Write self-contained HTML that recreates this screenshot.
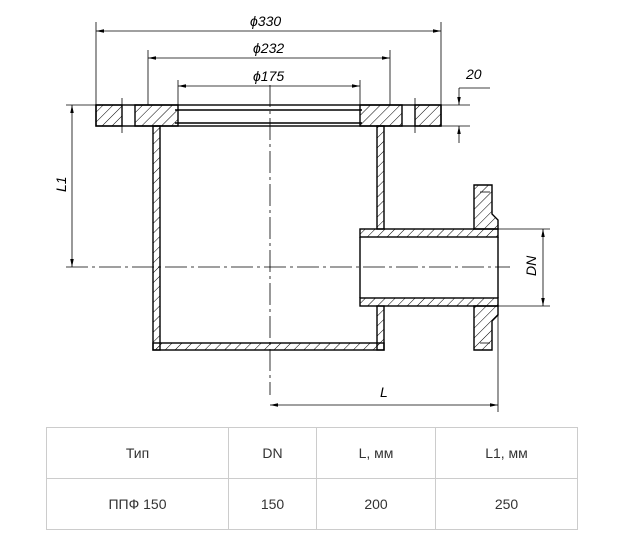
<!DOCTYPE html>
<html><head><meta charset="utf-8"><style>
body{margin:0;background:#fff;width:626px;height:560px;overflow:hidden;position:relative;font-family:"Liberation Sans",sans-serif}
table{position:absolute;left:46px;top:427px;border-collapse:collapse;font-size:14px;color:#333}
td{border:1px solid #ccc;text-align:center;height:50px;padding:0}
</style></head><body>
<svg width="626" height="430" style="position:absolute;left:0;top:0" xmlns="http://www.w3.org/2000/svg">
<defs>
<pattern id="h" width="7" height="7" patternUnits="userSpaceOnUse" patternTransform="rotate(45)"><line x1="0" y1="0" x2="0" y2="7" stroke="#000" stroke-width="1"/></pattern>
<marker id="a" markerWidth="10" markerHeight="6" refX="10" refY="3" orient="auto"><path d="M0,0.8 L10,3 L0,5.2z" fill="#000"/></marker>
<marker id="b" markerWidth="10" markerHeight="6" refX="0" refY="3" orient="auto"><path d="M10,0.8 L0,3 L10,5.2z" fill="#000"/></marker>
</defs>
<g stroke="#000" fill="none" stroke-width="1.4">
<!-- top flange -->
<rect x="96" y="105" width="345" height="21"/>
<rect x="96" y="105" width="26" height="21" fill="url(#h)"/>
<rect x="415" y="105" width="26" height="21" fill="url(#h)"/>
<path d="M135,105 H178 V126 H135Z" fill="url(#h)"/>
<path d="M360,105 H402 V126 H360Z" fill="url(#h)"/>
<line x1="175" y1="110" x2="362" y2="110"/>
<line x1="175" y1="123" x2="362" y2="123"/>
<!-- body -->
<rect x="153" y="126" width="7" height="224" fill="url(#h)"/>
<rect x="377" y="126" width="7" height="103" fill="url(#h)"/>
<rect x="377" y="306" width="7" height="44" fill="url(#h)"/>
<rect x="153" y="343" width="231" height="7" fill="url(#h)"/>
<!-- side pipe -->
<rect x="360" y="229" width="138" height="8" fill="url(#h)"/>
<rect x="360" y="298" width="138" height="8" fill="url(#h)"/>
<line x1="360" y1="237" x2="360" y2="298"/>
<line x1="498" y1="237" x2="498" y2="298"/>
<path d="M474,185 H492 V214 L498,220 V229 H474Z" fill="url(#h)"/>
<path d="M474,350 H492 V321 L498,315 V306 H474Z" fill="url(#h)"/>
</g>
<g stroke="#000" stroke-width="0.8" fill="none">
<line x1="270" y1="85" x2="270" y2="395" stroke-dasharray="22,4,3,4"/>
<line x1="66" y1="267" x2="510" y2="267" stroke-dasharray="22,4,3,4"/>
<line x1="122" y1="98" x2="122" y2="133"/><line x1="415" y1="98" x2="415" y2="133"/>
<line x1="480" y1="192" x2="490" y2="192"/><line x1="480" y1="343" x2="490" y2="343"/>
<!-- dims -->
<line x1="96" y1="22" x2="96" y2="105"/><line x1="441" y1="22" x2="441" y2="105"/>
<line x1="96" y1="31" x2="441" y2="31" marker-start="url(#b)" marker-end="url(#a)"/>
<line x1="148" y1="50" x2="148" y2="105"/><line x1="390" y1="50" x2="390" y2="105"/>
<line x1="148" y1="58" x2="390" y2="58" marker-start="url(#b)" marker-end="url(#a)"/>
<line x1="178" y1="80" x2="178" y2="105"/><line x1="360" y1="80" x2="360" y2="105"/>
<line x1="178" y1="86" x2="360" y2="86" marker-start="url(#b)" marker-end="url(#a)"/>
<line x1="441" y1="105" x2="470" y2="105"/><line x1="441" y1="126" x2="470" y2="126"/>
<line x1="459" y1="88" x2="459" y2="105" marker-end="url(#a)"/>
<line x1="459" y1="143" x2="459" y2="126" marker-end="url(#a)"/>
<line x1="459" y1="88" x2="490" y2="88"/>
<line x1="66" y1="105" x2="96" y2="105"/>
<line x1="72" y1="105" x2="72" y2="267" marker-start="url(#b)" marker-end="url(#a)"/>
<line x1="498" y1="306" x2="498" y2="412"/>
<line x1="270" y1="405" x2="498" y2="405" marker-start="url(#b)" marker-end="url(#a)"/>
<line x1="498" y1="229" x2="550" y2="229"/><line x1="498" y1="306" x2="550" y2="306"/>
<line x1="543" y1="229" x2="543" y2="306" marker-start="url(#b)" marker-end="url(#a)"/>
</g>
<g font-family="Liberation Sans,sans-serif" font-style="italic" font-size="14" fill="#000">
<text x="250" y="26">ϕ330</text>
<text x="253" y="53">ϕ232</text>
<text x="253" y="81">ϕ175</text>
<text x="466" y="79">20</text>
<text x="380" y="397">L</text>
<text transform="translate(66,192) rotate(-90)">L1</text>
<text transform="translate(536,276) rotate(-90)">DN</text>
</g>
</svg>
<table>
<tr><td style="width:181px">Тип</td><td style="width:87px">DN</td><td style="width:118px">L, мм</td><td style="width:141px">L1, мм</td></tr>
<tr><td>ППФ 150</td><td>150</td><td>200</td><td>250</td></tr>
</table>
</body></html>
